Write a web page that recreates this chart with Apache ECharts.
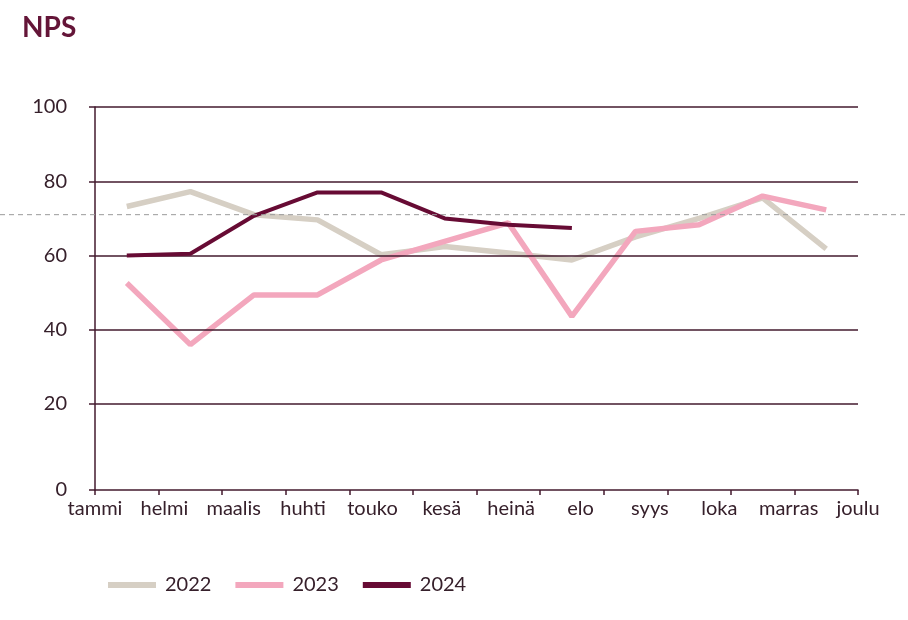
<!DOCTYPE html>
<html>
<head>
<meta charset="utf-8">
<script src="https://cdn.jsdelivr.net/npm/echarts@6/dist/echarts.min.js"></script>
<style>html,body{margin:0;padding:0;background:#fff;}#c{width:908px;height:620px;}</style>
</head>
<body>
<div id="c"></div>
<script>
const months = ['tammi','helmi','maalis','huhti','touko','kesä','heinä','elo','syys','loka','marras','joulu'];
const nps2022 = [73.2, 77.2, 71.0, 69.6, 60.2, 62.4, 60.7, 58.8, 65.0, 70.0, 75.5, 61.8];
const nps2023 = [52.6, 36.0, 49.4, 49.4, 58.8, 63.8, 68.8, 43.6, 66.5, 68.3, 76.0, 72.3];
const nps2024 = [60.0, 60.5, 70.7, 77.0, 77.0, 70.0, 68.3, 67.4, null, null, null, null];
const gridValues = [20, 40, 60, 80, 100];
const axisBottom = -3.15;           // the picture's zero line sits slightly below a linear 0
const yTickValues = [axisBottom, 20, 40, 60, 80, 100];
const referenceLevel = 71;

const FONT = 'Lato';
const TEXT = '#36202b';
const GRID = '#431a2e';

const chart = echarts.init(document.getElementById('c'), null, {renderer: 'canvas'});
const option = {
  animation: false,
  backgroundColor: '#ffffff',
  textStyle: {fontFamily: FONT},
  title: {
    text: 'NPS', left: 17, top: 9,
    textStyle: {fontFamily: FONT, fontWeight: 'bold', fontSize: 28, color: '#641538'}
  },
  legend: {
    data: ['2022', '2023', '2024'],
    left: 103, top: 570,
    icon: 'rect', itemWidth: 48, itemHeight: 6, itemGap: 24,
    textStyle: {fontFamily: FONT, fontSize: 20, color: TEXT, padding: [0, 0, 0, 4]}
  },
  grid: {left: 95, right: 50, top: 107, bottom: 130, containLabel: false},
  xAxis: [
    {
      type: 'category', data: months, boundaryGap: true, position: 'bottom',
      axisLine: {onZero: false, lineStyle: {color: GRID, width: 1.5}},
      axisTick: {show: true, length: 5, lineStyle: {color: GRID, width: 1.5}},
      axisLabel: {show: false},
      splitLine: {show: false}
    },
    {
      type: 'category', data: months, boundaryGap: false, position: 'bottom',
      axisLine: {show: false, onZero: false},
      axisTick: {show: false},
      axisLabel: {show: true, margin: 9, fontFamily: FONT, fontSize: 20, color: TEXT, interval: 0},
      splitLine: {show: false}
    }
  ],
  yAxis: {
    type: 'value', min: axisBottom, max: 100,
    axisLine: {show: true, lineStyle: {color: GRID, width: 1.5}},
    axisTick: {show: true, length: 6, customValues: yTickValues, lineStyle: {color: GRID, width: 1.5}},
    axisLabel: {
      customValues: yTickValues, margin: 28, fontFamily: FONT, fontSize: 20, color: TEXT,
      formatter: v => (v < 0 ? '0' : String(Math.round(v)))
    },
    splitLine: {show: false}
  },
  series: [
    {
      name: '2022', type: 'line', data: nps2022, xAxisIndex: 0, showSymbol: false, symbol: 'none',
      lineStyle: {color: '#d6cfc4', width: 5.5}, itemStyle: {color: '#d6cfc4'}, z: 3,
      markLine: {
        silent: true, symbol: 'none', label: {show: false},
        lineStyle: {color: GRID, width: 1.5, type: 'solid'},
        data: gridValues.map(v => ({yAxis: v}))
      }
    },
    {
      name: '2023', type: 'line', data: nps2023, xAxisIndex: 0, showSymbol: false, symbol: 'none',
      lineStyle: {color: '#f3a7bd', width: 5.5}, itemStyle: {color: '#f3a7bd'}, z: 4
    },
    {
      name: '2024', type: 'line', data: nps2024, xAxisIndex: 0, showSymbol: false, symbol: 'none',
      lineStyle: {color: '#670b34', width: 4}, itemStyle: {color: '#670b34'}, z: 5
    }
  ]
};
chart.setOption(option);
const yRef = chart.convertToPixel({yAxisIndex: 0}, referenceLevel);
chart.setOption({
  graphic: [{
    type: 'line', silent: true, z: 10,
    shape: {x1: 0, y1: yRef, x2: 908, y2: yRef},
    style: {stroke: '#9a9a9a', lineWidth: 1, lineDash: [5, 4]}
  }]
});
</script>
</body>
</html>
